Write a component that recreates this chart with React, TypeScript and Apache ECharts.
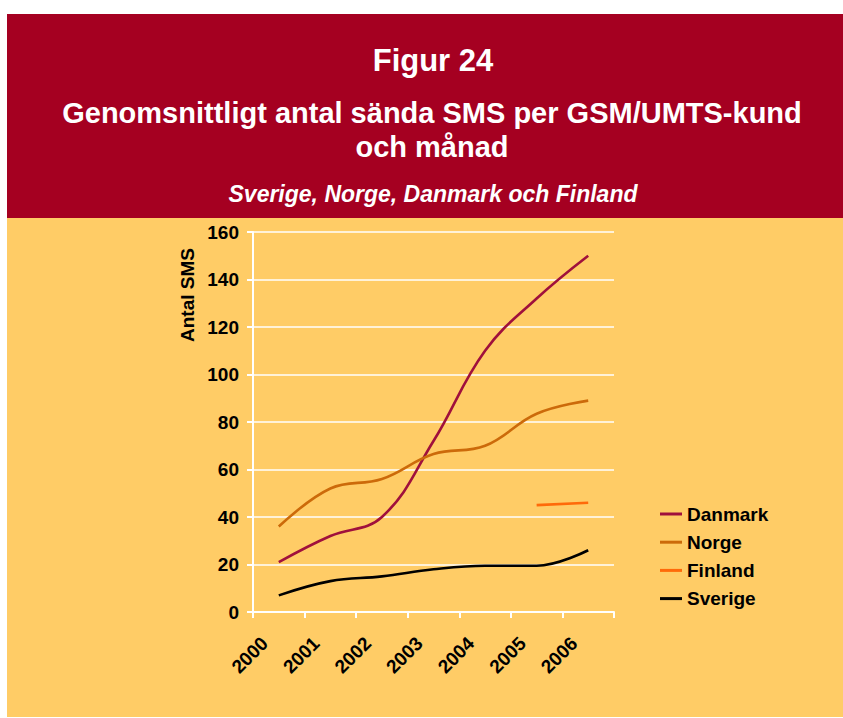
import React, { useEffect, useRef } from "react";
import * as echarts from "echarts";

const years = ["2000", "2001", "2002", "2003", "2004", "2005", "2006"];
const danmark = [21, 32, 40, 72, 110, 132, 150];
const norge = [36, 52, 56, 66.5, 70, 83.5, 89];
const finland = [null, null, null, null, null, 45, 46];
const sverige = [7, 13, 15, 18, 19.5, 19.5, 26];

const yTicks = { min: 0, max: 160, interval: 20 };

const titleMain = "Figur 24";
const titleSub = "Genomsnittligt antal sända SMS per GSM/UMTS-kund\noch månad";
const titleCountries = "Sverige, Norge, Danmark och Finland";
const yName = "Antal SMS";

const FONT = "Liberation Sans, Arial, sans-serif";

export default function App() {
  const ref = useRef<HTMLDivElement>(null);
  useEffect(() => {
    if (!ref.current) return;
    const chart = echarts.init(ref.current, null, { renderer: "svg" });
    const lineSeries = (name: string, data: (number | null)[], color: string) => ({
      name,
      type: "line",
      data,
      smooth: 0.4,
      showSymbol: false,
      symbol: "none",
      connectNulls: false,
      lineStyle: { color, width: 2.6 },
      itemStyle: { color },
      z: 3,
    });
    chart.setOption({
      animation: false,
      backgroundColor: "#ffffff",
      textStyle: { fontFamily: FONT },
      title: [
        {
          text: titleMain,
          left: 433,
          top: 42,
          padding: 0,
          textAlign: "center",
          textStyle: { color: "#fff", fontSize: 31, fontWeight: "bold", fontFamily: FONT, lineHeight: 36 },
        },
        {
          text: titleSub,
          left: 432,
          top: 96,
          padding: 0,
          textAlign: "center",
          textStyle: { color: "#fff", fontSize: 29, fontWeight: "bold", fontFamily: FONT, lineHeight: 34, align: "center" },
        },
        {
          text: titleCountries,
          left: 433,
          top: 180,
          padding: 0,
          textAlign: "center",
          textStyle: { color: "#fff", fontSize: 23, fontWeight: "bold", fontStyle: "italic", fontFamily: FONT, lineHeight: 27 },
        },
      ],
      graphic: [
        { type: "rect", z: -10, shape: { x: 7, y: 14, width: 836, height: 204 }, style: { fill: "#A50021" } },
        { type: "rect", z: -10, shape: { x: 7, y: 218, width: 836, height: 499 }, style: { fill: "#FFCC66" } },
        {
          type: "text",
          x: 187,
          y: 295,
          rotation: Math.PI / 2,
          style: {
            text: yName,
            fill: "#000",
            font: `bold 19px ${FONT}`,
            align: "center",
            verticalAlign: "middle",
          },
        },
      ],
      legend: {
        orient: "vertical",
        left: 660,
        top: 504,
        padding: 0,
        icon: "rect",
        itemWidth: 22,
        itemHeight: 3,
        itemGap: 8.2,
        textStyle: { color: "#000", fontSize: 19, fontWeight: "bold", fontFamily: FONT, lineHeight: 20 },
        data: ["Danmark", "Norge", "Finland", "Sverige"],
      },
      grid: { left: 253, top: 232, width: 361, height: 380, containLabel: false },
      xAxis: {
        type: "category",
        data: years,
        boundaryGap: true,
        axisLine: { lineStyle: { color: "#fff", width: 2 } },
        axisTick: { show: true, length: 6, lineStyle: { color: "#fff", width: 2 } },
        axisLabel: {
          rotate: 45,
          margin: 14,
          padding: [0, 20, 0, 0],
          color: "#000",
          fontSize: 19,
          fontWeight: "bold",
          fontFamily: FONT,
          interval: 0,
        },
        splitLine: { show: false },
      },
      yAxis: {
        type: "value",
        min: yTicks.min,
        max: yTicks.max,
        interval: yTicks.interval,
        axisLine: { show: true, lineStyle: { color: "#fff", width: 2 } },
        axisTick: { show: true, length: 6, lineStyle: { color: "#fff", width: 2 } },
        axisLabel: { margin: 14, color: "#000", fontSize: 19, fontWeight: "bold", fontFamily: FONT },
        splitLine: { show: true, lineStyle: { color: "#fff", width: 1.6 } },
      },
      series: [
        lineSeries("Danmark", danmark, "#A0103C"),
        lineSeries("Norge", norge, "#CC6A0A"),
        lineSeries("Finland", finland, "#FF6A0A"),
        lineSeries("Sverige", sverige, "#000000"),
      ],
    });
    return () => chart.dispose();
  }, []);
  return (
    <div
      ref={ref}
      style={{ position: "absolute", left: 0, top: 0, width: 843, height: 718 }}
    />
  );
}
